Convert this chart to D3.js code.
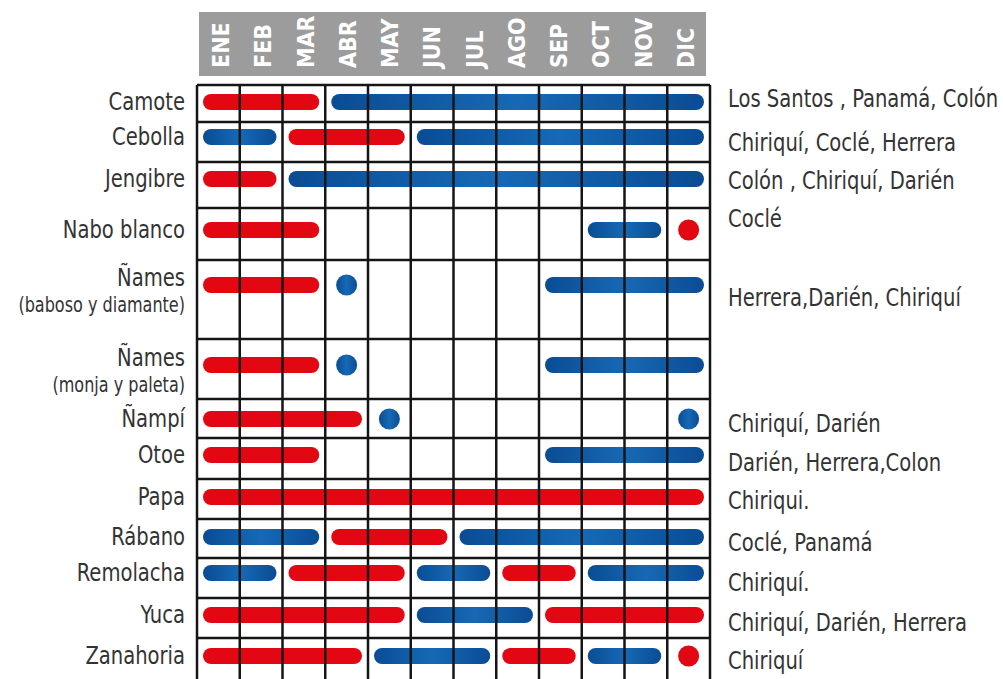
<!DOCTYPE html>
<html><head><meta charset="utf-8">
<script src="https://cdn.jsdelivr.net/npm/d3@7"></script>
<style>
html,body{margin:0;padding:0;background:#fff;}
svg{display:block;}
</style></head>
<body>
<script>
// ---------- DATA ----------
const months = ["ENE","FEB","MAR","ABR","MAY","JUN","JUL","AGO","SEP","OCT","NOV","DIC"];
const rowIds = ["camote","cebolla","jengibre","nabo","names1","names2","nampi","otoe","papa","rabano","remolacha","yuca","zanahoria"];
const cropNames = ["Camote","Cebolla","Jengibre","Nabo blanco","Ñames","Ñames","Ñampí","Otoe","Papa","Rábano","Remolacha","Yuca","Zanahoria"];
const cropSubNames = ["","","","","(baboso y diamante)","(monja y paleta)","","","","","","",""];
const regions = ["Los Santos , Panamá, Colón","Chiriquí, Coclé, Herrera","Colón , Chiriquí, Darién","Coclé","Herrera,Darién, Chiriquí","","Chiriquí, Darién","Darién, Herrera,Colon","Chiriqui.","Coclé, Panamá","Chiriquí.","Chiriquí, Darién, Herrera","Chiriquí"];

// red periods [row, from, to]
const redPeriods = [
  ["camote","ENE","MAR"],
  ["cebolla","MAR","MAY"],
  ["jengibre","ENE","FEB"],
  ["nabo","ENE","MAR"],["nabo","DIC","DIC"],
  ["names1","ENE","MAR"],
  ["names2","ENE","MAR"],
  ["nampi","ENE","ABR"],
  ["otoe","ENE","MAR"],
  ["papa","ENE","DIC"],
  ["rabano","ABR","JUN"],
  ["remolacha","MAR","MAY"],["remolacha","AGO","SEP"],
  ["yuca","ENE","MAY"],["yuca","SEP","DIC"],
  ["zanahoria","ENE","ABR"],["zanahoria","AGO","SEP"],["zanahoria","DIC","DIC"]
];
// blue periods [row, from, to]
const bluePeriods = [
  ["camote","ABR","DIC"],
  ["cebolla","ENE","FEB"],["cebolla","JUN","DIC"],
  ["jengibre","MAR","DIC"],
  ["nabo","OCT","NOV"],
  ["names1","ABR","ABR"],["names1","SEP","DIC"],
  ["names2","ABR","ABR"],["names2","SEP","DIC"],
  ["nampi","MAY","MAY"],["nampi","DIC","DIC"],
  ["otoe","SEP","DIC"],
  ["rabano","ENE","MAR"],["rabano","JUL","DIC"],
  ["remolacha","ENE","FEB"],["remolacha","JUN","JUL"],["remolacha","OCT","DIC"],
  ["yuca","JUN","AGO"],
  ["zanahoria","MAY","JUL"],["zanahoria","OCT","NOV"]
];

// ---------- LAYOUT ----------
const W = 1003, H = 679;
const gridLeft = 197, gridRight = 710, gridTop = 85;
const rowHeights = [37,40,46,52,79,60,39,41,40,39,40,40,41];
const barOffsets = [17,15,17,22,25,26,20,17,18,18,15,17,18];
const regionOffsets = [13,20,18,10,37,0,24,24,21,23,24,24,22];
const barH = 16, dotR = 10.5, barInset = 6;
const RED = "#e30613";
const txtColor = "#333";
const fontFam = "'Liberation Sans Narrow','DejaVu Sans Condensed','Arial Narrow',sans-serif";
const sx = 0.87;

const tops = [gridTop];
rowHeights.forEach((h,i)=>tops.push(tops[i]+h));
const yTop = d3.scaleOrdinal().domain(rowIds).range(tops.slice(0,rowIds.length));
const yBar = d3.scaleOrdinal().domain(rowIds).range(rowIds.map((id,i)=>tops[i]+barOffsets[i]));
const x = d3.scaleBand().domain(months).range([gridLeft, gridRight]).padding(0);
const xHead = d3.scaleBand().domain(months).range([199, 706]).padding(0);

const svg = d3.select("body").append("svg").attr("width",W).attr("height",H);

const defs = svg.append("defs");
const grad = defs.append("linearGradient").attr("id","blueGrad").attr("x1","0").attr("x2","1").attr("y1","0").attr("y2","0");
grad.append("stop").attr("offset","0%").attr("stop-color","#0a4c94");
grad.append("stop").attr("offset","50%").attr("stop-color","#1769b5");
grad.append("stop").attr("offset","100%").attr("stop-color","#0a4c94");

// header
svg.append("rect").attr("x",199).attr("y",12).attr("width",507).attr("height",64).attr("fill","#9c9c9c");
svg.append("g").selectAll("text").data(months).join("text")
  .attr("transform", d=>`translate(${xHead(d)+xHead.bandwidth()/2+9},68) rotate(-90)`)
  .attr("text-anchor","start")
  .attr("font-family",fontFam).attr("font-weight","bold").attr("font-size",23)
  .attr("fill","#fff").text(d=>d);

// bars
function drawPeriods(data, fill){
  const g = svg.append("g");
  const bars = data.filter(d=>d[1]!==d[2]);
  const dots = data.filter(d=>d[1]===d[2]);
  g.selectAll("rect").data(bars).join("rect")
    .attr("x", d=>x(d[1])+barInset)
    .attr("width", d=>x(d[2])+x.bandwidth()-barInset-(x(d[1])+barInset))
    .attr("y", d=>yBar(d[0])-barH/2)
    .attr("height", barH).attr("rx", barH/2).attr("ry", barH/2)
    .attr("fill", fill);
  g.selectAll("circle").data(dots).join("circle")
    .attr("cx", d=>x(d[1])+x.bandwidth()/2)
    .attr("cy", d=>yBar(d[0]))
    .attr("r", dotR).attr("fill", fill);
}
drawPeriods(redPeriods, RED);
drawPeriods(bluePeriods, "url(#blueGrad)");

// grid
const grid = svg.append("g").attr("stroke","#151515").attr("stroke-width",2.5).attr("fill","none");
const vlines = months.map(m=>x(m)).concat([gridRight]);
grid.selectAll("line.v").data(vlines).join("line").attr("class","v")
  .attr("x1",d=>d).attr("x2",d=>d).attr("y1",gridTop).attr("y2",H);
grid.selectAll("line.h").data(tops.slice(0,rowIds.length)).join("line").attr("class","h")
  .attr("x1",gridLeft).attr("x2",gridRight).attr("y1",d=>d).attr("y2",d=>d);

// left labels
const lab = svg.append("g").attr("font-family",fontFam).attr("fill",txtColor).attr("text-anchor","end");
rowIds.forEach((id,i)=>{
  const hasSub = cropSubNames[i] !== "";
  lab.append("text").attr("transform",`translate(185,${yBar(id) + (hasSub ? -8 : -1)}) scale(${sx},1)`)
    .attr("dy","0.35em").attr("font-size",25).text(cropNames[i]);
  if (hasSub) {
    lab.append("text").attr("transform",`translate(185,${yBar(id)+20}) scale(${sx},1)`)
      .attr("dy","0.35em").attr("font-size",20.5).text(cropSubNames[i]);
  }
});

// right labels
svg.append("g").attr("font-family",fontFam).attr("fill",txtColor).attr("font-size",25)
  .selectAll("text").data(rowIds.map((id,i)=>({id,i,t:regions[i]})).filter(d=>d.t!==""))
  .join("text")
  .attr("transform",d=>`translate(728,${yTop(d.id)+regionOffsets[d.i]}) scale(${sx},1)`)
  .attr("dy","0.35em")
  .text(d=>d.t);
</script>
</body></html>
